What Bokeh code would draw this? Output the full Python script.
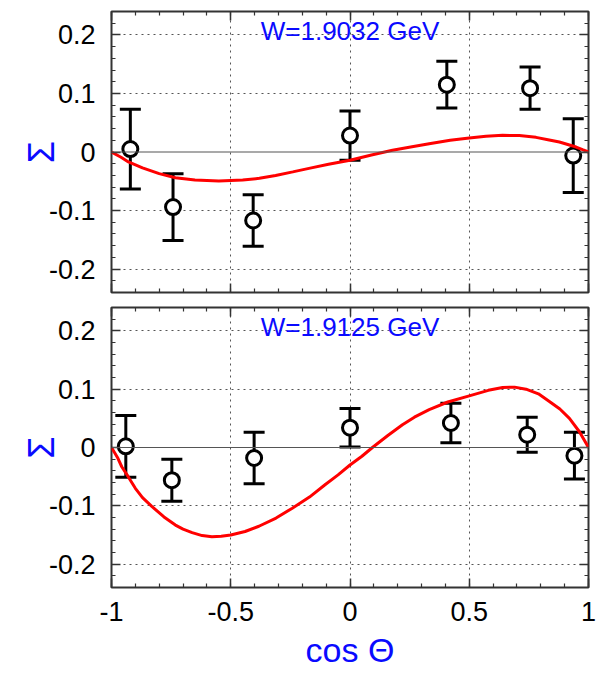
from bokeh.plotting import figure
from bokeh.layouts import column
from bokeh.models import (FixedTicker, LinearAxis, Range1d, Span, Label,
                          CustomJSTickFormatter, CustomLabelingPolicy)
from bokeh.embed import file_html
from bokeh.resources import INLINE

# ---- data ----
cos_top = [-0.921, -0.742, -0.406, 0.0, 0.406, 0.755, 0.936]
sigma_top = [0.005, -0.094, -0.117, 0.028, 0.115, 0.109, -0.006]
err_top = [0.068, 0.057, 0.044, 0.042, 0.040, 0.036, 0.063]

cos_bot = [-0.940, -0.747, -0.402, 0.0, 0.423, 0.743, 0.941]
sigma_bot = [0.002, -0.056, -0.018, 0.034, 0.042, 0.022, -0.014]
err_bot = [0.053, 0.036, 0.044, 0.033, 0.034, 0.030, 0.040]

curve_x_top = [-1.0, -0.96, -0.929, -0.87, -0.80, -0.732, -0.65, -0.55, -0.45,
               -0.38, -0.312, -0.24, -0.172, -0.09, 0.0, 0.09, 0.178, 0.26, 0.332,
               0.42, 0.5, 0.57, 0.64, 0.71, 0.78, 0.83, 0.878, 0.92, 0.948, 0.975, 1.0]
curve_y_top = [0.0, -0.009, -0.017, -0.027, -0.037, -0.044, -0.048, -0.0495, -0.048,
               -0.045, -0.040, -0.034, -0.028, -0.021, -0.014, -0.005, 0.003, 0.009,
               0.014, 0.020, 0.024, 0.027, 0.0285, 0.028, 0.025, 0.021, 0.017, 0.012,
               0.0085, 0.004, 0.0]

curve_x_bot = [-1.0, -0.975, -0.957, -0.93, -0.900, -0.87, -0.831, -0.78, -0.732,
               -0.70, -0.662, -0.62, -0.579, -0.54, -0.50, -0.44, -0.382, -0.31,
               -0.242, -0.17, -0.102, -0.05, 0.0, 0.05, 0.094, 0.16, 0.220, 0.27,
               0.332, 0.41, 0.5, 0.58, 0.640, 0.69, 0.738, 0.79, 0.836, 0.88,
               0.920, 0.962, 1.0]
curve_y_bot = [0.0, -0.017, -0.033, -0.050, -0.070, -0.086, -0.101, -0.119, -0.133,
               -0.140, -0.146, -0.151, -0.153, -0.152, -0.150, -0.144, -0.135, -0.121,
               -0.104, -0.085, -0.063, -0.047, -0.030, -0.015, 0.0, 0.021, 0.039, 0.052,
               0.065, 0.078, 0.0886, 0.098, 0.103, 0.1035, 0.100, 0.092, 0.079, 0.066,
               0.050, 0.027, 0.0]

x_ticks = [-1, -0.5, 0, 0.5, 1]
y_ticks = [-0.2, -0.1, 0, 0.1, 0.2]
titles = ["W=1.9032 GeV", "W=1.9125 GeV"]

FONT = "Liberation Sans"
BLUE = "#0a0aff"
FRAME = "#333333"

x_minor = [round(-1 + 0.1 * i, 2) for i in range(21)]
y_minor = [round(-0.24 + 0.02 * i, 2) for i in range(25)]
fmt = CustomJSTickFormatter(code="return String(tick);")


def style_axis(ax, labels):
    ax.axis_line_color = None
    ax.major_tick_in = 9
    ax.major_tick_out = 0
    ax.minor_tick_in = 4
    ax.minor_tick_out = 0
    ax.major_tick_line_color = FRAME
    ax.minor_tick_line_color = FRAME
    ax.major_tick_line_width = 1.5
    ax.minor_tick_line_width = 1.2
    ax.major_label_text_font = FONT
    if labels:
        ax.major_label_text_font_size = "27px"
        ax.major_label_text_color = "black"
        ax.formatter = fmt
    else:
        ax.major_label_policy = CustomLabelingPolicy(code="return [];")
        ax.major_label_text_font_size = "1px"
        ax.major_label_standoff = 0


def panel(cx, sy, er, lx, ly, title, bottom_labels, height, btop, bbot):
    p = figure(width=603, height=height, x_range=Range1d(-1, 1),
               y_range=Range1d(-0.24, 0.24), output_backend="svg",
               toolbar_location=None, min_border_left=111, min_border_right=15,
               min_border_top=btop, min_border_bottom=bbot)
    p.background_fill_color = "white"
    p.border_fill_color = "white"
    p.outline_line_color = FRAME
    p.outline_line_width = 2

    p.xaxis.ticker = FixedTicker(ticks=x_ticks, minor_ticks=x_minor)
    p.yaxis.ticker = FixedTicker(ticks=y_ticks, minor_ticks=y_minor)
    for ax in p.xaxis:
        style_axis(ax, bottom_labels)
        if bottom_labels:
            ax.major_label_standoff = 14
            ax.axis_label = "cos Θ"
            ax.axis_label_text_font = FONT
            ax.axis_label_text_font_size = "34px"
            ax.axis_label_text_font_style = "normal"
            ax.axis_label_text_color = BLUE
            ax.axis_label_standoff = 7
    for ax in p.yaxis:
        style_axis(ax, True)
        ax.major_label_standoff = 16
        ax.axis_label = "Σ"
        ax.axis_label_text_font = FONT
        ax.axis_label_text_font_size = "36px"
        ax.axis_label_text_font_style = "normal"
        ax.axis_label_text_color = BLUE
        ax.axis_label_standoff = -16

    ra = LinearAxis(ticker=FixedTicker(ticks=y_ticks, minor_ticks=y_minor))
    style_axis(ra, False)
    p.add_layout(ra, "right")
    ta = LinearAxis(ticker=FixedTicker(ticks=x_ticks, minor_ticks=x_minor))
    style_axis(ta, False)
    p.add_layout(ta, "above")

    p.xgrid.ticker = FixedTicker(ticks=[-0.5, 0, 0.5])
    p.ygrid.ticker = FixedTicker(ticks=[-0.2, -0.1, 0.1, 0.2])
    for g in (p.xgrid, p.ygrid):
        g.grid_line_color = "#555555"
        g.grid_line_width = 1
        g.grid_line_dash = "2 4"

    p.add_layout(Span(location=0, dimension="width", line_color="#555555",
                      line_width=1.2))

    lo = [s - e for s, e in zip(sy, er)]
    hi = [s + e for s, e in zip(sy, er)]
    p.segment(x0=cx, y0=lo, x1=cx, y1=hi, line_color="black", line_width=3)
    p.scatter(cx, lo, marker="dash", size=21, line_color="black", line_width=3)
    p.scatter(cx, hi, marker="dash", size=21, line_color="black", line_width=3)
    p.scatter(cx, sy, marker="circle", size=15, fill_color="white",
              line_color="black", line_width=3)
    p.line(lx, ly, line_color="#ff0000", line_width=3)

    p.add_layout(Label(x=0, y=0.24, text=title, text_align="center",
                       text_baseline="top", y_offset=-4, text_font=FONT,
                       text_font_size="26px", text_color=BLUE))
    return p


top = panel(cos_top, sigma_top, err_top, curve_x_top, curve_y_top, titles[0],
            False, 299, 11, 7)
bot = panel(cos_bot, sigma_bot, err_bot, curve_x_bot, curve_y_bot, titles[1],
            True, 375, 8, 87)

layout = column(top, bot, spacing=0)
open("out.html", "w").write(file_html(layout, INLINE))
